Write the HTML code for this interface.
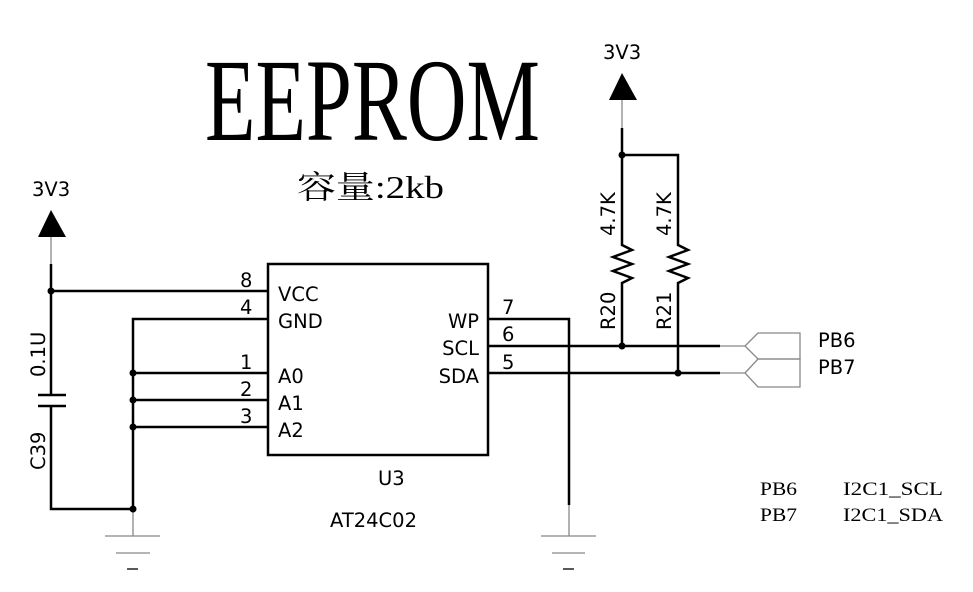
<!DOCTYPE html>
<html><head><meta charset="utf-8"><style>html,body{margin:0;padding:0;background:#fff}</style></head>
<body>
<svg width="973" height="587" viewBox="0 0 973 587" xmlns="http://www.w3.org/2000/svg">
<rect width="973" height="587" fill="#fff"/>
<g font-family="Liberation Serif, serif" fill="#000">
<text x="205" y="140" font-size="118" textLength="335" lengthAdjust="spacingAndGlyphs">EEPROM</text>
<text x="297" y="198" font-size="32" font-family="Liberation Serif, 'Noto Serif CJK SC', serif" textLength="147" lengthAdjust="spacingAndGlyphs">容量:2kb</text>
<text x="760" y="495" font-size="19" textLength="37" lengthAdjust="spacingAndGlyphs">PB6</text>
<text x="843" y="495" font-size="19" textLength="100" lengthAdjust="spacingAndGlyphs">I2C1_SCL</text>
<text x="760" y="521" font-size="19" textLength="37" lengthAdjust="spacingAndGlyphs">PB7</text>
<text x="843" y="521" font-size="19" textLength="100" lengthAdjust="spacingAndGlyphs">I2C1_SDA</text>
</g>
<g font-family="DejaVu Sans, sans-serif" font-size="19.5" fill="#000">
<text x="32" y="196">3V3</text>
<text x="603" y="59">3V3</text>
<text x="278" y="301">VCC</text>
<text x="278" y="328">GND</text>
<text x="278" y="383">A0</text>
<text x="278" y="410">A1</text>
<text x="278" y="437">A2</text>
<text x="479" y="328" text-anchor="end">WP</text>
<text x="479" y="355" text-anchor="end">SCL</text>
<text x="479" y="383" text-anchor="end">SDA</text>
<text x="240" y="287">8</text>
<text x="240" y="314">4</text>
<text x="240" y="369">1</text>
<text x="240" y="396">2</text>
<text x="240" y="423">3</text>
<text x="502" y="314">7</text>
<text x="502" y="341">6</text>
<text x="502" y="369">5</text>
<text x="378" y="485">U3</text>
<text x="330" y="527">AT24C02</text>
<text x="818" y="347">PB6</text>
<text x="818" y="374">PB7</text>
<text transform="translate(45,377) rotate(-90)">0.1U</text>
<text transform="translate(45,470) rotate(-90)">C39</text>
<text transform="translate(615,236) rotate(-90)">4.7K</text>
<text transform="translate(671,236) rotate(-90)">4.7K</text>
<text transform="translate(615,330) rotate(-90)">R20</text>
<text transform="translate(671,330) rotate(-90)">R21</text>
</g>
<g stroke="#888" stroke-width="1.3" fill="none">
<line x1="51" y1="237" x2="51" y2="264"/>
<line x1="622" y1="100" x2="622" y2="128"/>
<line x1="133" y1="509" x2="133" y2="536"/>
<line x1="569" y1="505" x2="569" y2="536"/>
<line x1="105" y1="536" x2="160" y2="536"/><line x1="116" y1="553" x2="150" y2="553"/>
<line x1="541" y1="536" x2="596" y2="536"/><line x1="552" y1="553" x2="585" y2="553"/>
<line x1="720" y1="346" x2="745" y2="346"/><line x1="720" y1="373" x2="745" y2="373"/>
<polygon points="745,346 758,333 800,333 800,359 758,359"/>
<polygon points="745,373 758,359 800,359 800,387 758,387"/>
</g>
<g stroke="#000" stroke-width="1.3"><line x1="127" y1="569" x2="138" y2="569"/><line x1="563" y1="569" x2="574" y2="569"/></g>
<polygon points="38,237 51,210 66,237" fill="#000"/>
<polygon points="609,100 622,73 637,100" fill="#000"/>
<g stroke="#000" stroke-width="2.5" fill="none">
<rect x="268" y="264" width="220" height="191"/>
<polyline points="51,264 51,395"/>
<line x1="51" y1="291" x2="268" y2="291"/>
<line x1="38" y1="395" x2="66" y2="395"/>
<line x1="38" y1="406" x2="66" y2="406"/>
<polyline points="51,406 51,509 133,509"/>
<polyline points="268,319 133,319 133,509"/>
<line x1="133" y1="373" x2="268" y2="373"/>
<line x1="133" y1="400" x2="268" y2="400"/>
<line x1="133" y1="427" x2="268" y2="427"/>
<polyline points="488,319 569,319 569,505"/>
<line x1="488" y1="346" x2="720" y2="346"/>
<line x1="488" y1="373" x2="720" y2="373"/>
<polyline points="622,128 622,245 632,250 613,257 632,264 613,271 632,278 622,283 622,346"/>
<polyline points="622,155 678,155 678,245 688,250 669,257 688,264 669,271 688,278 678,283 678,373"/>
</g>
<g fill="#000">
<circle cx="51" cy="291" r="3.5"/><circle cx="133" cy="373" r="3.5"/><circle cx="133" cy="400" r="3.5"/>
<circle cx="133" cy="427" r="3.5"/><circle cx="133" cy="509" r="3.5"/><circle cx="622" cy="155" r="3.5"/>
<circle cx="622" cy="346" r="3.5"/><circle cx="678" cy="373" r="3.5"/>
</g>
</svg>
</body></html>
